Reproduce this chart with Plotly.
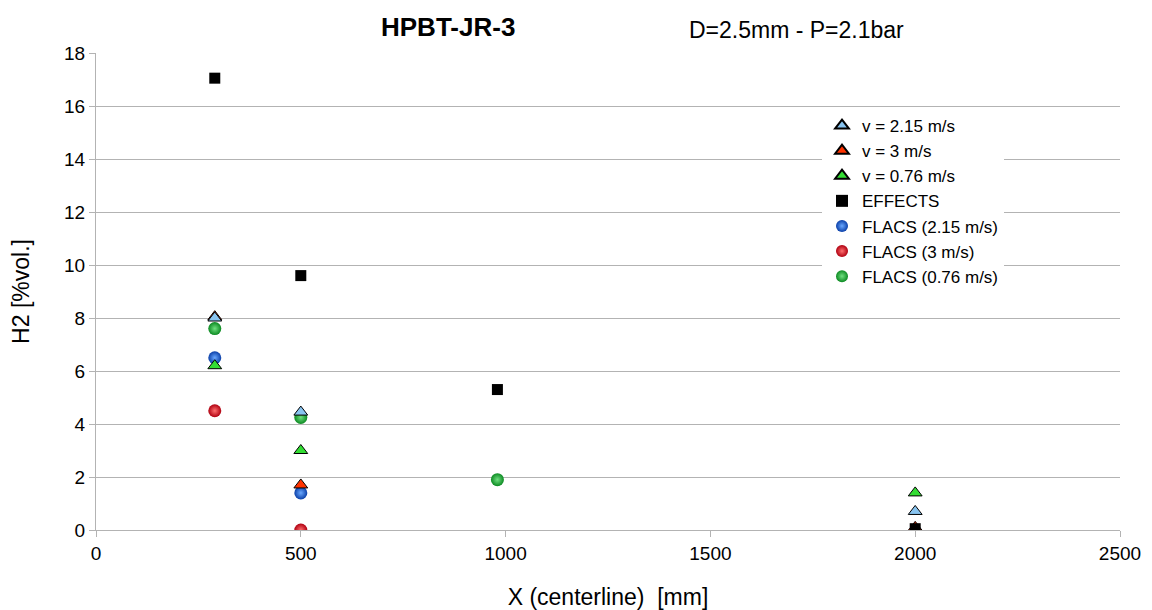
import plotly.graph_objects as go

# Data
x_tri = [290, 500, 2000]
v215 = [8.0, 4.45, 0.7]
v3_x = [290, 500, 2000]
v3 = [8.05, 1.7, 0.1]
v076 = [6.2, 3.0, 1.4]
eff_x = [290, 500, 980, 2000]
effects = [17.05, 9.6, 5.3, 0.05]
fl215_x = [290, 500]
fl215 = [6.5, 1.4]
fl3_x = [290, 500]
fl3 = [4.5, 0.0]
fl076_x = [290, 500, 980]
fl076 = [7.6, 4.25, 1.9]

fig = go.Figure()

def tri(x, y, name, color, rank):
    return go.Scatter(x=x, y=y, mode="markers", name=name, legendrank=rank,
                      marker=dict(symbol="triangle-up", size=12, color=color,
                                  line=dict(color="black", width=1)))

def sph(x, y, name, color, light, rank):
    return go.Scatter(x=x, y=y, mode="markers", name=name, legendrank=rank,
                      marker=dict(symbol="circle", size=13, color=color,
                                  gradient=dict(type="radial", color=light),
                                  line=dict(width=0)))

fig.add_trace(sph(fl3_x, fl3, "FLACS (3 m/s)", "#b00010", "#ff7070", 6))
fig.add_trace(sph(fl215_x, fl215, "FLACS (2.15 m/s)", "#0a3fa8", "#6aa8ff", 5))
fig.add_trace(sph(fl076_x, fl076, "FLACS (0.76 m/s)", "#0c8a22", "#70e080", 7))
fig.add_trace(tri(v3_x, v3, "v = 3 m/s", "#ff3300", 2))
fig.add_trace(tri(x_tri, v076, "v = 0.76 m/s", "#33dd33", 3))
fig.add_trace(tri(x_tri, v215, "v = 2.15 m/s", "#88c4f0", 1))
fig.add_trace(go.Scatter(x=eff_x, y=effects, mode="markers", name="EFFECTS", legendrank=4,
                         marker=dict(symbol="square", size=11, color="black")))

# page has an 8px body margin, so plot area 96..1120 x 53..530 in the screenshot
L, R, T, B = 96, 1120, 53, 530
def px(x):
    return (x - L) / (R - L)
def py(y):
    return (B - y) / (B - T)

fig.update_layout(
    width=1152, height=610,
    paper_bgcolor="white", plot_bgcolor="white",
    margin=dict(l=L - 8, r=1152 - (R - 8), t=T - 8, b=610 - (B - 8), autoexpand=False),
    font=dict(family="Liberation Sans, Arial, sans-serif", size=19, color="black"),
    showlegend=True,
    legend=dict(x=px(822), y=py(108), xanchor="left", yanchor="top",
                bgcolor="white", font=dict(size=17), tracegroupgap=0,
                itemsizing="constant"),
    annotations=[
        dict(text="<b>HPBT-JR-3</b>", x=px(448), y=py(27),
             xref="paper", yref="paper", xanchor="center", yanchor="middle",
             showarrow=False, font=dict(size=26)),
        dict(text="D=2.5mm - P=2.1bar", x=px(796), y=py(30),
             xref="paper", yref="paper", xanchor="center", yanchor="middle",
             showarrow=False, font=dict(size=23)),
    ],
)

fig.update_xaxes(range=[0, 2500], dtick=500, showgrid=False, zeroline=False,
                 showline=True, linecolor="#b3b3b3", ticks="outside", ticklen=6,
                 tickcolor="#b3b3b3", automargin=False,
                 title=dict(text="X (centerline)  [mm]", standoff=26))
fig.update_yaxes(range=[0, 18], dtick=2, showgrid=True, gridcolor="#b3b3b3", gridwidth=1,
                 zeroline=False, showline=True, linecolor="#b3b3b3", ticks="outside",
                 ticklen=6, tickcolor="#b3b3b3", automargin=False,
                 title=dict(text="H2 [%vol.]", standoff=29))

fig.write_html("out.html")
